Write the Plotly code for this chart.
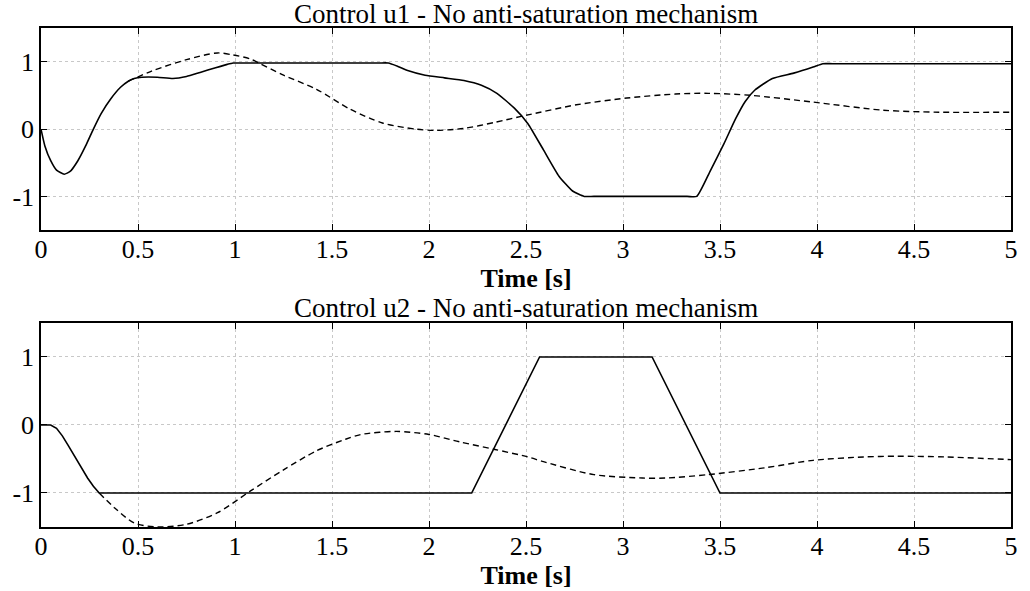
import plotly.graph_objects as go
from plotly.subplots import make_subplots

# ---- Data ----
# Control u1: saturated (solid)
t_u1_sat = [0.0, 0.02, 0.05, 0.08, 0.12, 0.15, 0.19, 0.23, 0.27, 0.31, 0.36, 0.41, 0.45, 0.48, 0.52, 0.60, 0.68,
            0.75, 0.82, 0.90, 0.96, 0.99, 1.04, 1.74, 1.79, 1.84, 1.89, 1.98, 2.08, 2.18, 2.27, 2.35, 2.44, 2.51,
            2.59, 2.67, 2.74, 2.80, 2.85, 3.33, 3.38, 3.45, 3.52, 3.58, 3.63, 3.68, 3.77, 3.88, 3.98, 4.03,
            4.08, 4.95, 5.0]
u1_sat = [0.0, -0.25, -0.47, -0.61, -0.67, -0.63, -0.47, -0.25, 0.0, 0.23, 0.45, 0.62, 0.71, 0.75, 0.77, 0.77, 0.75,
          0.78, 0.84, 0.91, 0.96, 0.98, 0.98, 0.98, 0.98, 0.93, 0.87, 0.80, 0.76, 0.72, 0.65, 0.53, 0.31, 0.08,
          -0.31, -0.70, -0.92, -1.0, -1.0, -1.0, -1.0, -0.62, -0.22, 0.15, 0.41, 0.58, 0.75, 0.83, 0.92, 0.97,
          0.97, 0.97, 0.97]
# Control u1: unsaturated (dashed)
t_u1_uns = [0.45, 0.57, 0.75, 0.91, 0.99, 1.08, 1.13, 1.25, 1.42, 1.59, 1.76, 1.93, 2.03, 2.18, 2.34, 2.51,
            2.76, 3.02, 3.27, 3.44, 3.66, 3.98, 4.34, 4.63, 5.0]
u1_uns = [0.71, 0.86, 1.03, 1.13, 1.10, 1.04, 0.97, 0.80, 0.59, 0.30, 0.09, 0.0, -0.02, 0.01, 0.10, 0.21,
          0.36, 0.46, 0.52, 0.53, 0.50, 0.40, 0.28, 0.25, 0.25]

# Control u2: saturated (solid)
t_u2_sat = [0.0, 0.05, 0.08, 0.11, 0.14, 0.17, 0.20, 0.24, 0.27, 0.30, 2.22, 2.57, 3.15, 3.50, 5.0]
u2_sat = [0.0, 0.0, -0.05, -0.16, -0.30, -0.45, -0.60, -0.78, -0.90, -1.0, -1.0, 1.0, 1.0, -1.0, -1.0]
# Control u2: unsaturated (dashed)
t_u2_uns = [0.30, 0.38, 0.48, 0.60, 0.75, 0.91, 1.08, 1.25, 1.42, 1.57, 1.65, 1.83, 2.00, 2.16, 2.34,
            2.51, 2.59, 2.85, 3.10, 3.22, 3.44, 3.73, 3.98, 4.24, 4.41, 4.66, 5.0]
u2_uns = [-1.0, -1.22, -1.44, -1.50, -1.46, -1.29, -0.97, -0.66, -0.38, -0.21, -0.14, -0.095, -0.14, -0.25, -0.36,
          -0.47, -0.54, -0.73, -0.78, -0.78, -0.73, -0.63, -0.52, -0.47, -0.46, -0.47, -0.51]

x_ticks = [0, 0.5, 1, 1.5, 2, 2.5, 3, 3.5, 4, 4.5, 5]
x_tick_labels = ["0", "0.5", "1", "1.5", "2", "2.5", "3", "3.5", "4", "4.5", "5"]
y_ticks = [-1, 0, 1]
y_tick_labels = ["-1", "0", "1"]
titles = ["Control u1 - No anti-saturation mechanism", "Control u2 - No anti-saturation mechanism"]
x_title = "Time [s]"

FONT = "Liberation Serif, Times New Roman, serif"

fig = make_subplots(rows=2, cols=1, vertical_spacing=0.0)

solid = dict(color="black", width=1.6)
dashed = dict(color="black", width=1.4, dash="6px,4px")

fig.add_trace(go.Scatter(x=t_u1_sat, y=u1_sat, mode="lines", line=dict(shape="spline", smoothing=0.5, **solid),
                         showlegend=False), row=1, col=1)
fig.add_trace(go.Scatter(x=t_u1_uns, y=u1_uns, mode="lines", line=dict(shape="spline", smoothing=0.8, **dashed),
                         showlegend=False), row=1, col=1)
fig.add_trace(go.Scatter(x=t_u2_sat, y=u2_sat, mode="lines", line=solid, showlegend=False), row=2, col=1)
fig.add_trace(go.Scatter(x=t_u2_uns, y=u2_uns, mode="lines", line=dict(shape="spline", smoothing=0.8, **dashed),
                         showlegend=False), row=2, col=1)

axis_common = dict(
    showline=True, linecolor="black", linewidth=1.5, mirror="ticks",
    ticks="inside", ticklen=6, tickcolor="black", tickwidth=1,
    showgrid=True, gridcolor="#c8c8c8", griddash="dot", gridwidth=1,
    zeroline=False, tickfont=dict(family=FONT, size=26, color="black"),
)

for r, dom in [(1, [0.595, 1.0]), (2, [0.0, 0.409])]:
    fig.update_xaxes(range=[0, 5], tickvals=x_ticks, ticktext=x_tick_labels, ticklabelstandoff=-5,
                     title=dict(text="<b>" + x_title + "</b>", font=dict(family=FONT, size=26, color="black"),
                                standoff=0),
                     row=r, col=1, **axis_common)
    fig.update_yaxes(range=[-1.5, 1.5], tickvals=y_ticks, ticktext=y_tick_labels, domain=dom,
                     row=r, col=1, **axis_common)

fig.add_annotation(text=titles[0], xref="paper", yref="paper", x=0.5, y=1.0, xanchor="center", yanchor="bottom",
                   showarrow=False, font=dict(family=FONT, size=27, color="black"), yshift=-3)
fig.add_annotation(text=titles[1], xref="paper", yref="paper", x=0.5, y=0.409, xanchor="center", yanchor="bottom",
                   showarrow=False, font=dict(family=FONT, size=27, color="black"), yshift=-2)

fig.update_layout(
    width=1030, height=591,
    margin=dict(l=39, r=12, t=28, b=60),
    paper_bgcolor="white", plot_bgcolor="white",
    font=dict(family=FONT, color="black"),
)

fig.write_html("out.html")
